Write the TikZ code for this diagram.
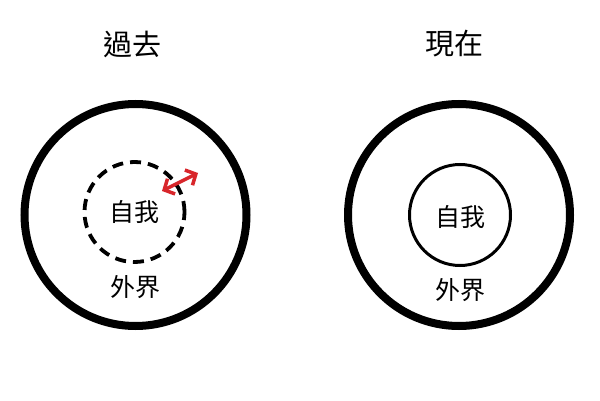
\documentclass[tikz,border=0pt]{standalone}
\usepackage{fontspec}
\newfontfamily\cjk{Noto Sans CJK TC}
\usetikzlibrary{arrows.meta}
\definecolor{arrred}{HTML}{D8262B}
\tikzset{
  outer/.style={draw=black, line width=8pt, circle, minimum size=222pt, inner sep=0pt},
  selfdash/.style={draw=black, line width=3.8pt, circle, minimum size=100pt, inner sep=0pt, dash pattern=on 11pt off 7pt},
  selfsolid/.style={draw=black, line width=3pt, circle, minimum size=101pt, inner sep=0pt},
  title/.style={font=\cjk\fontsize{29}{32}\selectfont, inner sep=0pt},
  label/.style={font=\cjk\fontsize{25}{28}\selectfont, inner sep=0pt},
  push/.style={draw=arrred, line width=3.5pt, {Straight Barb[length=8pt,width=17pt,line width=3.5pt]}-{Straight Barb[length=8pt,width=17pt,line width=3.5pt]}}
}
\begin{document}
\begin{tikzpicture}[x=1pt,y=-1pt]
\useasboundingbox[fill=white] (0,0) rectangle (600,401);
% left: past
\node[title] (t1) at (132,44) {過去};
\node[outer] (o1) at (135.5,215) {};
\node[selfdash] (s1) at (134.5,212) {};
\node[label] (l1) at (134,212) {自我};
\node[label] (w1) at (135,287) {外界};
\coordinate (a1) at (162,191);
\coordinate (a2) at (198,173);
\draw[push] (a1) -- (a2);
% right: present
\node[title] (t2) at (454,44) {現在};
\node[outer] (o2) at (459,215) {};
\node[selfsolid] (s2) at (460,215) {};
\node[label] (l2) at (460,217) {自我};
\node[label] (w2) at (460,290) {外界};
\end{tikzpicture}
\end{document}
